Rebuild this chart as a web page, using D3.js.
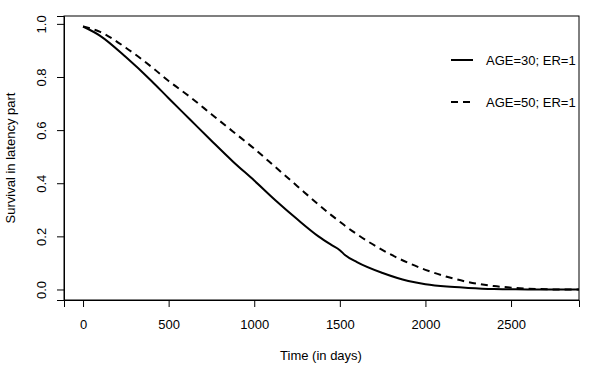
<!DOCTYPE html>
<html><head><meta charset="utf-8">
<script src="https://cdn.jsdelivr.net/npm/d3@7"></script>
<style>body{margin:0;background:#fff;} svg{display:block;font-family:"Liberation Sans",Arial,sans-serif;}</style>
</head><body>
<svg id="c" width="600" height="371"></svg>
<script>
const days = [0, 100, 250, 400, 500, 625, 750, 875, 1000, 1125, 1250, 1375, 1450, 1500, 1530, 1600, 1750, 1900, 2000, 2125, 2250, 2400, 2500, 2650, 2780, 2900];
const age30 = [0.99, 0.955, 0.875, 0.785, 0.72, 0.64, 0.56, 0.482, 0.41, 0.335, 0.265, 0.2, 0.168, 0.148, 0.13, 0.103, 0.062, 0.032, 0.02, 0.011, 0.006, 0.002, 0.001, 0.0, 0.0, 0.0];
const age50 = [0.99, 0.97, 0.91, 0.838, 0.785, 0.725, 0.66, 0.595, 0.53, 0.46, 0.39, 0.32, 0.28, 0.255, 0.24, 0.208, 0.148, 0.1, 0.074, 0.048, 0.028, 0.013, 0.007, 0.002, 0.0, 0.0];
const xTicks = [0, 500, 1000, 1500, 2000, 2500];
const yTicks = [0.0, 0.2, 0.4, 0.6, 0.8, 1.0];
const seriesNames = ["AGE=30; ER=1", "AGE=50; ER=1"];

const svg = d3.select("#c");
const L = 64, R = 579, T = 16, B = 300;
const FS = 13;
const x = d3.scaleLinear().domain([-111.2, 2897]).range([L, R]);
const y = d3.scaleLinear().domain([-0.0396, 1.0296]).range([B, T]);

svg.append("defs").append("clipPath").attr("id", "clip")
  .append("rect").attr("x", L).attr("y", T).attr("width", R - L).attr("height", B - T);

// box
svg.append("rect").attr("x", L).attr("y", T).attr("width", R - L).attr("height", B - T)
  .attr("fill", "none").attr("stroke", "#000").attr("stroke-width", 1);

// axes
const xAxis = svg.append("g").attr("transform", `translate(0,${B})`)
  .call(d3.axisBottom(x).tickValues(xTicks).tickFormat(d3.format("d")).tickSize(7).tickPadding(13));
const yAxis = svg.append("g").attr("transform", `translate(${L},0)`)
  .call(d3.axisLeft(y).tickValues(yTicks).tickFormat(d3.format(".1f")).tickSize(7).tickPadding(0));
[xAxis, yAxis].forEach(g => {
  g.select(".domain").attr("stroke", "#000");
  g.selectAll(".tick line").attr("stroke", "#000");
  g.selectAll("text").attr("font-size", FS).attr("fill", "#000").attr("font-family", "Liberation Sans, Arial, sans-serif");
});
yAxis.selectAll(".tick text")
  .attr("transform", "rotate(-90)")
  .attr("x", 0).attr("y", -18).attr("dy", "0").attr("text-anchor", "middle");

// axis titles
svg.append("text").attr("x", x(1390)).attr("y", 360).attr("text-anchor", "middle")
  .attr("font-size", FS).text("Time (in days)");
svg.append("text").attr("transform", `translate(15,${(T + B) / 2}) rotate(-90)`)
  .attr("text-anchor", "middle").attr("font-size", FS).text("Survival in latency part");

// lines
const line = d3.line().x((d, i) => x(days[i])).y(d => y(d)).curve(d3.curveMonotoneX);
const plot = svg.append("g").attr("clip-path", "url(#clip)");
plot.append("path").datum(age30).attr("d", line).attr("fill", "none")
  .attr("stroke", "#000").attr("stroke-width", 2);
plot.append("path").datum(age50).attr("d", line).attr("fill", "none")
  .attr("stroke", "#000").attr("stroke-width", 2).attr("stroke-dasharray", "7,5");

// legend
const lg = svg.append("g");
const dashes = [null, "7,5"];
seriesNames.forEach((n, i) => {
  const yy = 60 + i * 42;
  lg.append("line").attr("x1", 451).attr("x2", 473).attr("y1", yy).attr("y2", yy)
    .attr("stroke", "#000").attr("stroke-width", 2).attr("stroke-dasharray", dashes[i]);
  lg.append("text").attr("x", 486).attr("y", yy + 5).attr("font-size", FS).text(n);
});
</script>
</body></html>
